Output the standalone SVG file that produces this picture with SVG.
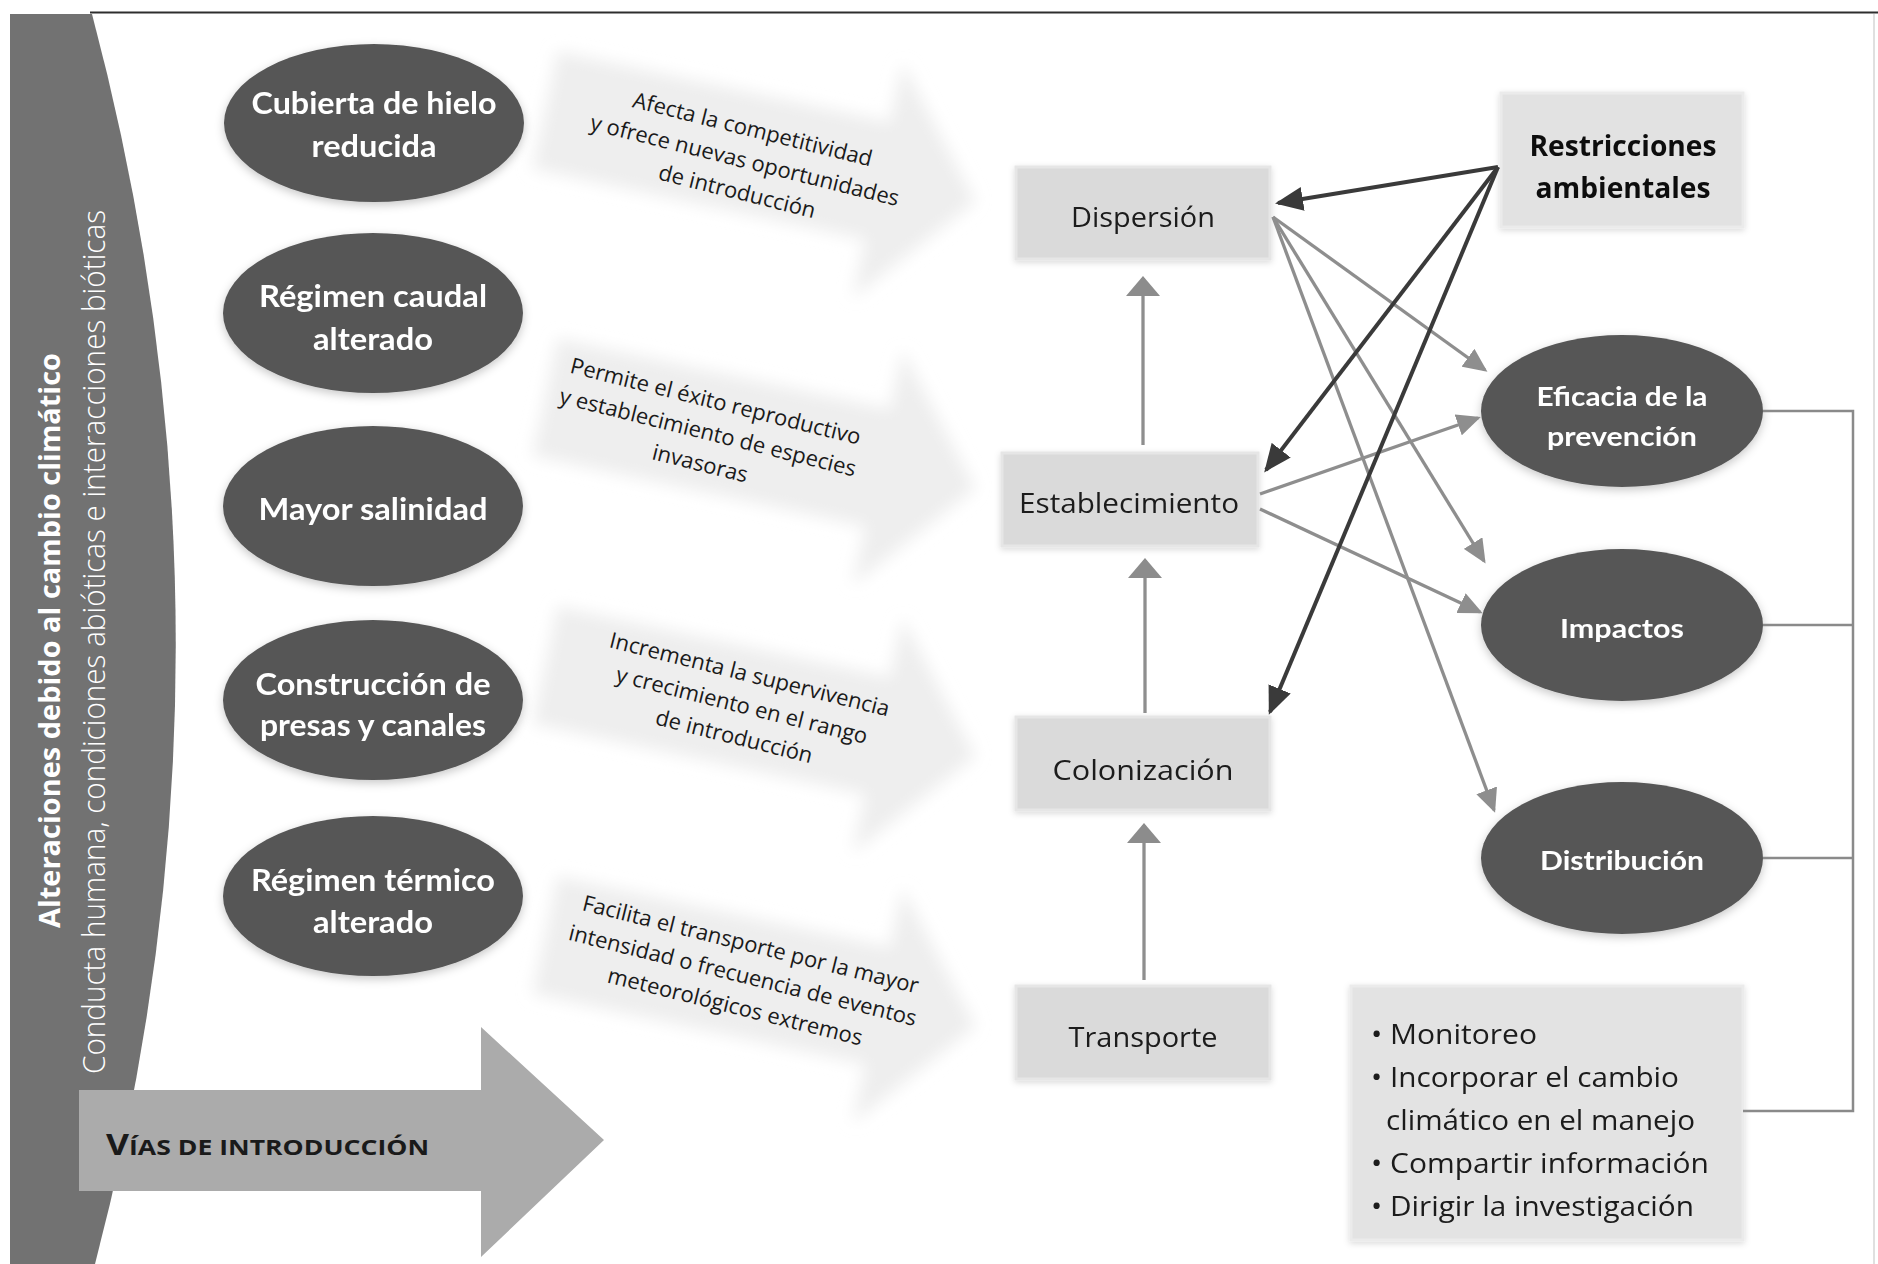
<svg xmlns="http://www.w3.org/2000/svg" width="1878" height="1264" viewBox="0 0 1878 1264">
<defs>
<style>
.band{fill:#727272}
.oval{fill:#575757}
.otxt{font-family:Lato,"Open Sans",sans-serif;font-weight:700;fill:#ffffff;text-anchor:middle}
.box{fill:#dadada;stroke:#e6e6e6;stroke-width:3}
.btxt{font-family:"Open Sans","Noto Sans",sans-serif;font-weight:400;fill:#1a1a1a;text-anchor:middle;font-size:27px}
.bbold{font-family:"Open Sans","Noto Sans",sans-serif;font-weight:700;fill:#111;text-anchor:middle;font-size:29px}
.desc{font-family:"Open Sans","Noto Sans",sans-serif;font-weight:400;fill:#1a1a1a;text-anchor:middle;font-size:22px}
.faint{fill:#eeeeee}
.dark{stroke:#3a3a3a;stroke-width:4;fill:none}
.gray{stroke:#8e8e8e;stroke-width:3.3;fill:none}
.brk{stroke:#8a8a8a;stroke-width:2.5;fill:none}
.mtxt{font-family:"Open Sans","Noto Sans",sans-serif;font-weight:400;fill:#1a1a1a;font-size:27px}
</style>
<filter id="blur" x="-20%" y="-40%" width="140%" height="180%"><feGaussianBlur stdDeviation="8"/></filter>
<filter id="shadow" x="-20%" y="-30%" width="140%" height="160%"><feDropShadow dx="0" dy="3" stdDeviation="5" flood-color="#000" flood-opacity="0.22"/></filter>
<filter id="soft" x="-10%" y="-20%" width="120%" height="140%"><feDropShadow dx="0" dy="2" stdDeviation="3" flood-color="#000" flood-opacity="0.15"/></filter>
<marker id="ad" viewBox="0 0 28 24" refX="25" refY="12" markerWidth="28" markerHeight="24" markerUnits="userSpaceOnUse" orient="auto"><path d="M0,0 L28,12 L0,24 z" fill="#3a3a3a"/></marker>
<marker id="ag" viewBox="0 0 24 22" refX="21" refY="11" markerWidth="24" markerHeight="22" markerUnits="userSpaceOnUse" orient="auto"><path d="M0,0 L24,11 L0,22 z" fill="#8e8e8e"/></marker>
<marker id="av" viewBox="0 0 20 34" refX="18" refY="17" markerWidth="20" markerHeight="34" markerUnits="userSpaceOnUse" orient="auto"><path d="M0,0 L20,17 L0,34 z" fill="#8c8c8c"/></marker>
</defs>

<rect width="1878" height="1264" fill="#ffffff"/>

<!-- faint background arrows -->
<g id="faint-arrows" filter="url(#blur)">
<path class="faint" transform="translate(545,110) rotate(12)" d="M0,-60 L340,-60 L340,-120 L440,0 L340,120 L340,60 L0,60 Z"/>
<path class="faint" transform="translate(545,397) rotate(12)" d="M0,-60 L340,-60 L340,-120 L440,0 L340,120 L340,60 L0,60 Z"/>
<path class="faint" transform="translate(545,665) rotate(12)" d="M0,-60 L340,-60 L340,-120 L440,0 L340,120 L340,60 L0,60 Z"/>
<path class="faint" transform="translate(545,935) rotate(12)" d="M0,-60 L340,-60 L340,-120 L440,0 L340,120 L340,60 L0,60 Z"/>
</g>

<!-- top line and edge -->
<line x1="90" y1="12.5" x2="1878" y2="12.5" stroke="#2e2e2e" stroke-width="2"/>
<line x1="1874" y1="14" x2="1874" y2="1264" stroke="#d6d6d6" stroke-width="1.5"/>

<!-- left band -->
<g id="band">
<path class="band" d="M10,14 L92,14 Q258,641 95,1264 L10,1264 Z"/>
<text transform="translate(60,928) rotate(-90)" font-family="'Open Sans','Noto Sans',sans-serif" font-weight="700" font-size="29" fill="#ffffff" textLength="575" lengthAdjust="spacingAndGlyphs">Alteraciones debido al cambio climático</text>
<text transform="translate(105,1074) rotate(-90)" font-family="'Open Sans','Noto Sans',sans-serif" font-weight="300" font-size="31" fill="#ffffff" textLength="864" lengthAdjust="spacingAndGlyphs">Conducta humana, condiciones abióticas e interacciones bióticas</text>
</g>

<!-- Vías de introducción arrow -->
<g id="vias">
<path d="M79,1090 L481,1090 L481,1027 L604,1140 L481,1257 L481,1191 L79,1191 Z" fill="#ababab"/>
<text x="106" y="1155" font-family="'Open Sans','Noto Sans',sans-serif" font-weight="700" fill="#1a1a1a" textLength="323" lengthAdjust="spacingAndGlyphs"><tspan font-size="28">V</tspan><tspan font-size="21">ÍAS DE INTRODUCCIÓN</tspan></text>
</g>

<!-- left ovals -->
<g id="n-hielo" filter="url(#shadow)">
<ellipse class="oval" cx="374" cy="123" rx="150" ry="79"/>
<text class="otxt" x="374" y="114" font-size="30" textLength="245" lengthAdjust="spacingAndGlyphs">Cubierta de hielo</text>
<text class="otxt" x="374" y="157" font-size="30" textLength="125" lengthAdjust="spacingAndGlyphs">reducida</text>
</g>
<g id="n-caudal" filter="url(#shadow)">
<ellipse class="oval" cx="373" cy="313" rx="150" ry="80"/>
<text class="otxt" x="373" y="307" font-size="30" textLength="228" lengthAdjust="spacingAndGlyphs">Régimen caudal</text>
<text class="otxt" x="373" y="350" font-size="30" textLength="120" lengthAdjust="spacingAndGlyphs">alterado</text>
</g>
<g id="n-salinidad" filter="url(#shadow)">
<ellipse class="oval" cx="373" cy="506" rx="150" ry="80"/>
<text class="otxt" x="373" y="520" font-size="30" textLength="229" lengthAdjust="spacingAndGlyphs">Mayor salinidad</text>
</g>
<g id="n-presas" filter="url(#shadow)">
<ellipse class="oval" cx="373" cy="700" rx="150" ry="80"/>
<text class="otxt" x="373" y="695" font-size="30" textLength="235" lengthAdjust="spacingAndGlyphs">Construcción de</text>
<text class="otxt" x="373" y="736" font-size="30" textLength="226" lengthAdjust="spacingAndGlyphs">presas y canales</text>
</g>
<g id="n-termico" filter="url(#shadow)">
<ellipse class="oval" cx="373" cy="896" rx="150" ry="80"/>
<text class="otxt" x="373" y="891" font-size="30" textLength="244" lengthAdjust="spacingAndGlyphs">Régimen térmico</text>
<text class="otxt" x="373" y="933" font-size="30" textLength="120" lengthAdjust="spacingAndGlyphs">alterado</text>
</g>

<!-- descriptions -->
<g id="d1" transform="translate(745,160) rotate(14)">
<text class="desc" x="0" y="-24">Afecta la competitividad</text>
<text class="desc" x="0" y="8">y ofrece nuevas oportunidades</text>
<text class="desc" x="0" y="40">de introducción</text>
</g>
<g id="d2" transform="translate(708,432) rotate(14)">
<text class="desc" x="0" y="-24">Permite el éxito reproductivo</text>
<text class="desc" x="0" y="8">y establecimiento de especies</text>
<text class="desc" x="0" y="40">invasoras</text>
</g>
<g id="d3" transform="translate(742,705) rotate(14)">
<text class="desc" x="0" y="-24">Incrementa la supervivencia</text>
<text class="desc" x="0" y="8">y crecimiento en el rango</text>
<text class="desc" x="0" y="40">de introducción</text>
</g>
<g id="d4" transform="translate(743,975) rotate(14)">
<text class="desc" x="0" y="-24">Facilita el transporte por la mayor</text>
<text class="desc" x="0" y="8">intensidad o frecuencia de eventos</text>
<text class="desc" x="0" y="40">meteorológicos extremos</text>
</g>

<!-- process boxes -->
<g id="n-dispersion" filter="url(#soft)">
<rect class="box" x="1016" y="167" width="254" height="92"/>
<text class="btxt" x="1143" y="227" textLength="144" lengthAdjust="spacingAndGlyphs">Dispersión</text>
</g>
<g id="n-establecimiento" filter="url(#soft)">
<rect class="box" x="1002" y="453" width="256" height="93"/>
<text class="btxt" x="1129" y="513" textLength="220" lengthAdjust="spacingAndGlyphs">Establecimiento</text>
</g>
<g id="n-colonizacion" filter="url(#soft)">
<rect class="box" x="1016" y="717" width="254" height="93"/>
<text class="btxt" x="1143" y="780" textLength="181" lengthAdjust="spacingAndGlyphs">Colonización</text>
</g>
<g id="n-transporte" filter="url(#soft)">
<rect class="box" x="1016" y="986" width="254" height="93"/>
<text class="btxt" x="1143" y="1047" textLength="149" lengthAdjust="spacingAndGlyphs">Transporte</text>
</g>

<g id="n-restricciones" filter="url(#soft)">
<rect x="1501" y="93" width="242" height="134" fill="#e2e2e2" stroke="#ebebeb" stroke-width="3"/>
<text class="bbold" x="1623" y="156" textLength="187" lengthAdjust="spacingAndGlyphs">Restricciones</text>
<text class="bbold" x="1623" y="198" textLength="175" lengthAdjust="spacingAndGlyphs">ambientales</text>
</g>

<!-- right ovals -->
<g id="n-eficacia" filter="url(#shadow)">
<ellipse class="oval" cx="1622" cy="411" rx="141" ry="76"/>
<text class="otxt" x="1622" y="406" font-size="27" textLength="171" lengthAdjust="spacingAndGlyphs">Eficacia de la</text>
<text class="otxt" x="1622" y="446" font-size="27" textLength="150" lengthAdjust="spacingAndGlyphs">prevención</text>
</g>
<g id="n-impactos" filter="url(#shadow)">
<ellipse class="oval" cx="1622" cy="625" rx="141" ry="76"/>
<text class="otxt" x="1622" y="638" font-size="27" textLength="124" lengthAdjust="spacingAndGlyphs">Impactos</text>
</g>
<g id="n-distribucion" filter="url(#shadow)">
<ellipse class="oval" cx="1622" cy="858" rx="141" ry="76"/>
<text class="otxt" x="1622" y="870" font-size="27" textLength="164" lengthAdjust="spacingAndGlyphs">Distribución</text>
</g>

<g id="n-manejo" filter="url(#soft)">
<rect x="1351" y="986" width="392" height="254" fill="#e3e3e3" stroke="#ebebeb" stroke-width="3"/>
<text class="mtxt" x="1371" y="1044" textLength="166" lengthAdjust="spacingAndGlyphs">• Monitoreo</text>
<text class="mtxt" x="1371" y="1087" textLength="308" lengthAdjust="spacingAndGlyphs">• Incorporar el cambio</text>
<text class="mtxt" x="1386" y="1130" textLength="309" lengthAdjust="spacingAndGlyphs">climático en el manejo</text>
<text class="mtxt" x="1371" y="1173" textLength="338" lengthAdjust="spacingAndGlyphs">• Compartir información</text>
<text class="mtxt" x="1371" y="1216" textLength="323" lengthAdjust="spacingAndGlyphs">• Dirigir la investigación</text>
</g>

<!-- connectors -->
<g id="connectors">
<line class="gray" x1="1143" y1="445" x2="1143" y2="278" marker-end="url(#av)"/>
<line class="gray" x1="1145" y1="713" x2="1145" y2="560" marker-end="url(#av)"/>
<line class="gray" x1="1144" y1="980" x2="1144" y2="825" marker-end="url(#av)"/>

<line class="gray" x1="1273" y1="217" x2="1485" y2="370" marker-end="url(#ag)"/>
<line class="gray" x1="1273" y1="217" x2="1484" y2="561" marker-end="url(#ag)"/>
<line class="gray" x1="1273" y1="217" x2="1494" y2="810" marker-end="url(#ag)"/>
<line class="gray" x1="1260" y1="494" x2="1478" y2="418" marker-end="url(#ag)"/>
<line class="gray" x1="1260" y1="509" x2="1480" y2="612" marker-end="url(#ag)"/>

<line class="dark" x1="1498" y1="167" x2="1278" y2="203" marker-end="url(#ad)"/>
<line class="dark" x1="1498" y1="167" x2="1266" y2="470" marker-end="url(#ad)"/>
<line class="dark" x1="1498" y1="167" x2="1270" y2="712" marker-end="url(#ad)"/>

<polyline class="brk" points="1763,411 1853,411 1853,1111 1743,1111"/>
<line class="brk" x1="1763" y1="625" x2="1853" y2="625"/>
<line class="brk" x1="1763" y1="858" x2="1853" y2="858"/>
</g>
</svg>
